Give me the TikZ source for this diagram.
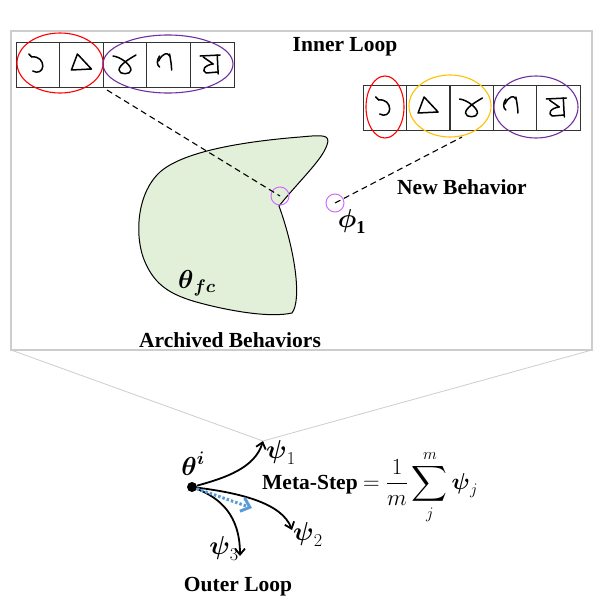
\documentclass[tikz,border=0pt]{standalone}
\usepackage{fix-cm}
\usepackage{amsmath}
\usepackage{fontspec}
\setmainfont{Liberation Serif}
\usetikzlibrary{arrows.meta}
\definecolor{blobgreen}{RGB}{226,239,217}
\definecolor{ringpurple}{RGB}{112,48,160}
\definecolor{ringorange}{RGB}{255,192,0}
\definecolor{markviolet}{RGB}{204,110,255}
\definecolor{stepblue}{RGB}{91,155,213}
\definecolor{framegray}{RGB}{205,205,205}
\tikzset{
  cell/.style={draw=black!80, line width=0.8pt, minimum width=43.6pt, minimum height=45pt, inner sep=0pt},
  gstroke/.style={line width=1.5pt, line cap=round, line join=round},
  ring/.style={line width=1.1pt},
  lbl/.style={font=\fontsize{21.5}{25}\selectfont\bfseries, inner sep=0pt},
  mlbl/.style={font=\fontsize{26}{30}\selectfont, inner sep=0pt},
  markring/.style={draw=markviolet, circle, minimum size=18pt, inner sep=0pt, line width=1pt},
  link/.style={dash pattern=on 6pt off 4pt, line width=1.1pt},
  grad/.style={-{Straight Barb[length=6pt,width=10pt]}, line width=1.8pt},
  pics/glyph/.style={code={
    \ifcase#1
    \or \draw[gstroke] (-9,-11) -- (-6,-8) .. controls (1,-9) and (5,-4) .. (5,1) .. controls (5,6) and (0,9) .. (-5,6);
    \or \draw[gstroke] (-4,-11) -- (10,4) -- (-10,5) -- cycle;
    \or \draw[gstroke] (-12,-9) .. controls (-4,-8) and (6,0) .. (6,5) .. controls (6,10) and (-6,10) .. (-6,5) .. controls (-6,0) and (4,-6) .. (11,-10);
    \or \draw[gstroke] (-9,-9) .. controls (-12,-5) and (-12,0) .. (-9,2);
        \draw[gstroke] (-10,-4) .. controls (-6,-12) and (-1,-13) .. (1,-9);
        \draw[gstroke] (1,-11) .. controls (2,-5) and (3,0) .. (3,5);
    \or \draw[gstroke] (-12,-9) -- (8,-10);
        \draw[gstroke] (5,-10) -- (6,9);
        \draw[gstroke] (-9,-8) -- (1,-1) .. controls (-8,0) and (-11,6) .. (-6,8) -- (6,7);
    \fi}}
}
\begin{document}
\begin{tikzpicture}[x=1pt,y=-1pt]
\useasboundingbox (0,0) rectangle (598,611);

% inner loop frame and zoom lines
\draw[framegray, line width=1.3pt] (11,31) rectangle (592,350);
\coordinate (apex) at (263,441);
\draw[framegray, line width=0.8pt] (11,350) -- (apex) -- (592,350);

% archived behaviours
\draw[fill=blobgreen, line width=1pt] (279,206) .. controls (300,180) and (322,160) .. (327,145)
  .. controls (331,134) and (322,135) .. (300,137)
  .. controls (250,141) and (185,150) .. (160,172)
  .. controls (135,195) and (135,240) .. (145,262)
  .. controls (155,285) and (170,295) .. (200,303)
  .. controls (230,311) and (270,318) .. (292,313)
  .. controls (302,300) and (295,250) .. (279,206) -- cycle;

% character strips
\foreach \i in {1,...,5} {
  \node[cell] (l\i) at ({16+43.6*(\i-0.5)},65) {};
  \pic at (l\i) {glyph=\i};
  \node[cell] (r\i) at ({363+43.4*(\i-0.5)},108) {};
  \pic at (r\i) {glyph=\i};
}
\draw[red, ring] (60,63) ellipse [x radius=43, y radius=30];
\draw[ringpurple, ring] (168,64) ellipse [x radius=65, y radius=29];
\draw[red, ring] (385,107) ellipse [x radius=19, y radius=31];
\draw[ringorange, ring] (450,106) ellipse [x radius=41, y radius=31];
\draw[ringpurple, ring] (536,107) ellipse [x radius=42, y radius=31];

% behaviours
\node[markring] (old) at (280,196) {};
\node[markring] (new) at (335,203) {};
\coordinate (lfoot) at (107,90);
\coordinate (rfoot) at (462,137);
\draw[link] (lfoot) -- (old.center);
\draw[link] (new.center) -- (rfoot);

\node[lbl] (inner) at (345,47) {Inner Loop};
\node[lbl] (newlbl) at (462,187) {New Behavior};
\node[mlbl] (phi) at (352,221) {$\boldsymbol{\phi}_{\mathbf{1}}$};
\node[mlbl] (thfc) at (197,283) {$\boldsymbol{\theta}_{\boldsymbol{fc}}$};
\node[lbl] (arch) at (230,340) {Archived Behaviors};

% outer loop
\node[circle, fill=black, minimum size=10pt, inner sep=0pt] (th) at (192,487) {};
\node[mlbl] (thl) at (193,464) {$\boldsymbol{\theta}^{\boldsymbol{i}}$};
\coordinate (p1) at (apex);
\coordinate (p2) at (292,530);
\coordinate (p3) at (240,556);
\coordinate (sb) at (252,508);
\draw[grad] (th) .. controls (225,478) and (255,468) .. (p1);
\draw[grad] (th) .. controls (240,493) and (282,503) .. (p2);
\draw[grad] (th) .. controls (220,498) and (240,515) .. (p3);
\draw[stepblue, line width=3pt, dash pattern=on 2.5pt off 2pt, -{Straight Barb[length=8pt,width=14pt]}] (th) -- (sb);
\node[mlbl, anchor=west] (psi1) at (266,452) {$\boldsymbol{\psi}_1$};
\node[mlbl, anchor=west] (psi2) at (293,534) {$\boldsymbol{\psi}_2$};
\node[mlbl, anchor=east] (psi3) at (239,548) {$\boldsymbol{\psi}_3$};
\node[lbl, anchor=west] (ms) at (262,487) {Meta-Step {\fontsize{23}{27}\selectfont$= \dfrac{1}{m}\displaystyle\sum_{j}^{m}\boldsymbol{\psi}_j$}};
\node[lbl] (outer) at (238,587) {Outer Loop};
\end{tikzpicture}
\end{document}
